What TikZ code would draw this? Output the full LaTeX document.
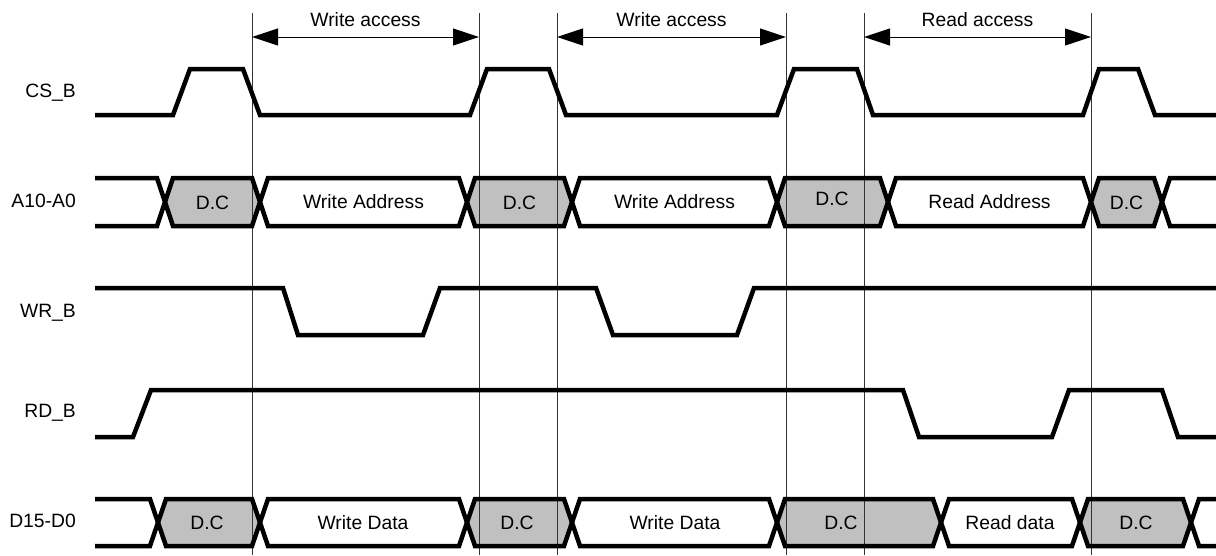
\documentclass[tikz,border=0pt]{standalone}
\usepackage{fontspec}
\setmainfont{Liberation Sans}
\usetikzlibrary{arrows.meta}
\definecolor{dcgray}{RGB}{192,192,192}
\newcommand{\hexfill}[5]{%
  \fill[dcgray] (#1,#4) -- (#1+8,#3) -- (#2-8,#3) -- (#2,#4) -- (#2-8,#5) -- (#1+8,#5) -- cycle;}
\begin{document}
\begin{tikzpicture}[x=1pt,y=-1pt,
  sig/.style={line width=4.5pt,line join=miter,line cap=butt},
  grid/.style={line width=0.9pt,black!80},
  span/.style={line width=1pt,{Triangle[length=26pt,width=17pt]}-{Triangle[length=26pt,width=17pt]}},
  txt/.style={inner sep=0pt,font=\fontsize{19.3}{23}\selectfont},
  lbl/.style={txt,anchor=east}]
\useasboundingbox (0,0) rectangle (1216,555);
\fill[white] (0,0) rectangle (1216,555);

% gray D.C regions
\hexfill{165}{260}{178}{202}{226}
\hexfill{467}{572}{178}{202}{226}
\hexfill{777}{888}{178}{202}{226}
\hexfill{1091}{1162}{178}{202}{226}
\hexfill{158}{260}{499}{522.5}{546}
\hexfill{467}{572}{499}{522.5}{546}
\hexfill{777}{941}{499}{522.5}{546}
\hexfill{1080}{1191}{499}{522.5}{546}

% vertical reference lines
\foreach \x/\n in {252/1,479/2,557/3,786/4,864/5,1091/6}{
  \coordinate (t\n) at (\x,13);
  \coordinate (b\n) at (\x,555);
  \coordinate (a\n) at (\x,37);
  \draw[grid] (t\n) -- (b\n);
}

% access arrows
\draw[span] (a1) -- (a2);
\draw[span] (a3) -- (a4);
\draw[span] (a5) -- (a6);
\node[txt] (wa1) at (365.5,20) {Write access};
\node[txt] (wa2) at (671.5,20) {Write access};
\node[txt] (ra)  at (977.5,20) {Read access};

% signal labels
\node[lbl] (lcs) at (76,93)  {CS\_B};
\node[lbl] (lad) at (76,201) {A10-A0};
\node[lbl] (lwr) at (76,313) {WR\_B};
\node[lbl] (lrd) at (76,413) {RD\_B};
\node[lbl] (ldt) at (76,521) {D15-D0};

% CS_B
\draw[sig] (95,115) -- (173,115) -- (190,69) -- (243,69) -- (260,115) -- (470,115) -- (487,69)
  -- (549,69) -- (566,115) -- (777,115) -- (794,69) -- (857,69) -- (873,115) -- (1083,115)
  -- (1099,69) -- (1138,69) -- (1155,115) -- (1216,115);

% A10-A0 bus
\draw[sig] (95,178) -- (157,178) -- (173,226) -- (252,226) -- (268,178) -- (459,178) -- (475,226)
  -- (564,226) -- (580,178) -- (769,178) -- (785,226) -- (880,226) -- (896,178) -- (1083,178)
  -- (1099,226) -- (1154,226) -- (1170,178) -- (1216,178);
\draw[sig] (95,226) -- (157,226) -- (173,178) -- (252,178) -- (268,226) -- (459,226) -- (475,178)
  -- (564,178) -- (580,226) -- (769,226) -- (785,178) -- (880,178) -- (896,226) -- (1083,226)
  -- (1099,178) -- (1154,178) -- (1170,226) -- (1216,226);
\node[txt] (adc1) at (212.5,203) {D.C};
\node[txt] (awa1) at (363.5,202) {Write Address};
\node[txt] (adc2) at (519.5,203) {D.C};
\node[txt] (awa2) at (674.5,202) {Write Address};
\node[txt] (adc3) at (832,199) {D.C};
\node[txt] (ara)  at (989.5,202) {Read Address};
\node[txt] (adc4) at (1126.5,203) {D.C};

% WR_B
\draw[sig] (95,288) -- (283,288) -- (298,335) -- (423,335) -- (440,288) -- (596,288) -- (613,335)
  -- (737,335) -- (754,288) -- (1216,288);

% RD_B
\draw[sig] (95,437) -- (133,437) -- (151,390) -- (903,390) -- (919,437) -- (1052,437) -- (1069,390)
  -- (1162,390) -- (1178,437) -- (1216,437);

% D15-D0 bus
\draw[sig] (95,499) -- (150,499) -- (166,546) -- (252,546) -- (268,499) -- (459,499) -- (475,546)
  -- (564,546) -- (580,499) -- (769,499) -- (785,546) -- (933,546) -- (949,499) -- (1072,499)
  -- (1088,546) -- (1183,546) -- (1199,499) -- (1216,499);
\draw[sig] (95,546) -- (150,546) -- (166,499) -- (252,499) -- (268,546) -- (459,546) -- (475,499)
  -- (564,499) -- (580,546) -- (769,546) -- (785,499) -- (933,499) -- (949,546) -- (1072,546)
  -- (1088,499) -- (1183,499) -- (1199,546) -- (1216,546);
\node[txt] (ddc1) at (207,523) {D.C};
\node[txt] (dwd1) at (363,523) {Write Data};
\node[txt] (ddc2) at (517,523) {D.C};
\node[txt] (dwd2) at (675,523) {Write Data};
\node[txt] (ddc3) at (841,523) {D.C};
\node[txt] (drd)  at (1010,523) {Read data};
\node[txt] (ddc4) at (1136,523) {D.C};
\end{tikzpicture}
\end{document}
